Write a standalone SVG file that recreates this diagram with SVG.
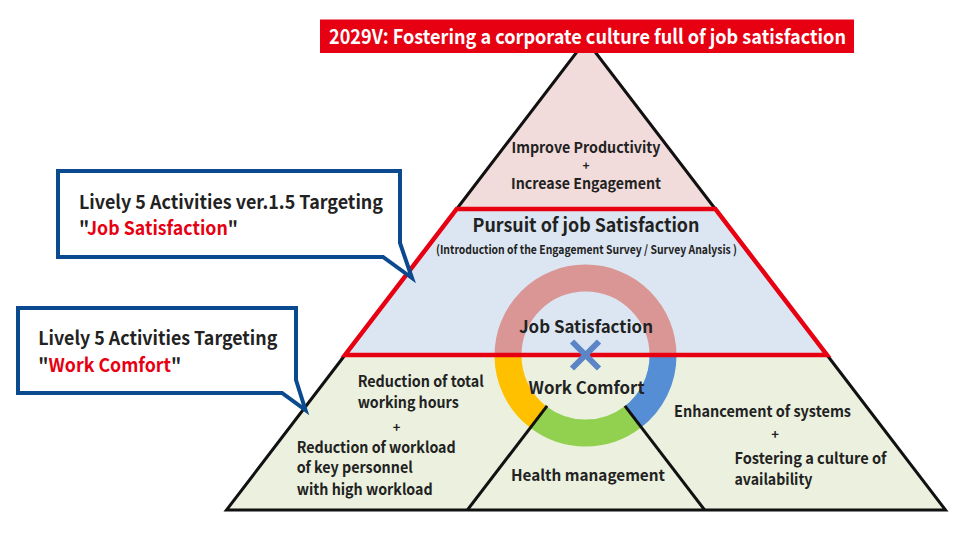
<svg xmlns="http://www.w3.org/2000/svg" width="980" height="533" viewBox="0 0 980 533">
<style>
.t{font-family:"Noto Sans CJK JP","Noto Sans",sans-serif;font-weight:700;fill:#222;}
.m{text-anchor:middle;}
.red{fill:#e60012;}
.blk{stroke:#111;stroke-width:3;fill:none;}
.ring{fill:none;stroke-width:27;}
.callout{fill:#fff;stroke:#0b4a8e;stroke-width:4;stroke-linejoin:miter;}
</style>
<rect width="980" height="533" fill="#fff"/>

<g id="tier-top">
<path d="M586,40 L456.7,209 L715.3,209 Z" fill="#f2dcdb"/>
<path class="blk" d="M456.7,209 L586,40 L715.3,209"/>
<text class="t m" x="586" y="153" font-size="15" textLength="149" lengthAdjust="spacingAndGlyphs">Improve Productivity</text>
<text class="t m" x="586" y="170" font-size="12">+</text>
<text class="t m" x="586" y="189" font-size="15" textLength="150" lengthAdjust="spacingAndGlyphs">Increase Engagement</text>
</g>

<g id="tier-middle">
<path d="M456.7,209 L715.3,209 L827,355 L345,355 Z" fill="#dce6f2"/>
</g>

<g id="tier-bottom">
<path d="M345,355 L827,355 L945.5,510 L226.5,510 Z" fill="#ebf1de"/>
<path class="blk" d="M345,355 L226.5,510 L945.5,510 L827,355"/>
</g>

<g id="ring">
<path class="ring" stroke="#d99694" d="M508,355.5 A77.5,77.5 0 0 1 663,355.5"/>
<path class="ring" stroke="#558ed5" d="M663,355.5 A77.5,77.5 0 0 1 632.6,417.1"/>
<path class="ring" stroke="#92d050" d="M632.6,417.1 A77.5,77.5 0 0 1 538.4,417.1"/>
<path class="ring" stroke="#ffc000" d="M538.4,417.1 A77.5,77.5 0 0 1 508,355.5"/>
</g>

<g id="dividers">
<line class="blk" x1="547.1" y1="405.8" x2="467.4" y2="510"/>
<line class="blk" x1="624.9" y1="405.8" x2="704.6" y2="510"/>
</g>

<g id="tier-middle-outline">
<path d="M456.7,209 L715.3,209 L827,355 L345,355 Z" fill="none" stroke="#e60012" stroke-width="4.5"/>
</g>

<g id="cross">
<path d="M572,341.5 L599,368.5 M599,341.5 L572,368.5" stroke="#5b85c6" stroke-width="6" fill="none"/>
</g>

<g id="labels-middle">
<text class="t m" x="586" y="232" font-size="18.5" textLength="227" lengthAdjust="spacingAndGlyphs">Pursuit of job Satisfaction</text>
<text class="t m" x="586.5" y="253.5" font-size="12" font-weight="500" textLength="301" lengthAdjust="spacingAndGlyphs">(Introduction of the Engagement Survey / Survey Analysis )</text>
<text class="t m" x="586" y="332.5" font-size="17" font-weight="500" textLength="134" lengthAdjust="spacingAndGlyphs">Job Satisfaction</text>
<text class="t m" x="586.5" y="394" font-size="16.5" font-weight="500" textLength="116" lengthAdjust="spacingAndGlyphs">Work Comfort</text>
</g>

<g id="node-left">
<text class="t" x="357.7" y="387.3" font-size="15.5" textLength="126" lengthAdjust="spacingAndGlyphs">Reduction of total</text>
<text class="t" x="357.7" y="407.7" font-size="15.5" textLength="101" lengthAdjust="spacingAndGlyphs">working hours</text>
<text class="t m" x="396.7" y="432" font-size="13">+</text>
<text class="t" x="296.7" y="453.3" font-size="15.5" textLength="159" lengthAdjust="spacingAndGlyphs">Reduction of workload</text>
<text class="t" x="296.7" y="473.3" font-size="15.5" textLength="116" lengthAdjust="spacingAndGlyphs">of key personnel</text>
<text class="t" x="296.7" y="495" font-size="15.5" textLength="136" lengthAdjust="spacingAndGlyphs">with high workload</text>
</g>

<g id="node-health">
<text class="t m" x="588" y="481" font-size="15.5" textLength="154" lengthAdjust="spacingAndGlyphs">Health management</text>
</g>

<g id="node-right">
<text class="t" x="674" y="417" font-size="15.5" textLength="177" lengthAdjust="spacingAndGlyphs">Enhancement of systems</text>
<text class="t m" x="775" y="439" font-size="13">+</text>
<text class="t" x="734.5" y="464" font-size="15.5" textLength="152" lengthAdjust="spacingAndGlyphs">Fostering a culture of</text>
<text class="t" x="734.5" y="485" font-size="15.5" textLength="78" lengthAdjust="spacingAndGlyphs">availability</text>
</g>

<g id="banner">
<rect x="320" y="19.5" width="534" height="33.5" fill="#e60012"/>
<text class="t" x="329" y="44" font-size="20" textLength="517" lengthAdjust="spacingAndGlyphs" style="fill:#fff">2029V: Fostering a corporate culture full of job satisfaction</text>
</g>

<g id="callout-job">
<path class="callout" d="M58,171 H400 V243 L412,278 L383,257 H58 Z"/>
<text class="t" x="79" y="209" font-size="19" textLength="304" lengthAdjust="spacingAndGlyphs">Lively 5 Activities ver.1.5 Targeting</text>
<text class="t" x="79" y="235" font-size="19" textLength="159" lengthAdjust="spacingAndGlyphs">"<tspan class="red">Job Satisfaction</tspan>"</text>
</g>

<g id="callout-work">
<path class="callout" d="M18,308 H296 V380 L305.5,410 L282,393 H18 Z"/>
<text class="t" x="38.3" y="345" font-size="19" textLength="239" lengthAdjust="spacingAndGlyphs">Lively 5 Activities Targeting</text>
<text class="t" x="38.3" y="371.5" font-size="19" textLength="143" lengthAdjust="spacingAndGlyphs">"<tspan class="red">Work Comfort</tspan>"</text>
</g>
</svg>
